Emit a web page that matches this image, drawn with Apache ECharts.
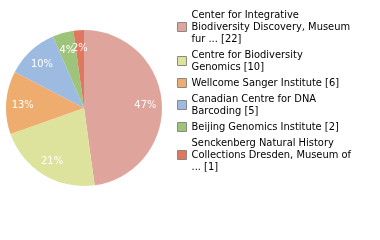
<!DOCTYPE html>
<html><head><meta charset="utf-8">
<script src="https://cdn.jsdelivr.net/npm/echarts@6/dist/echarts.min.js"></script>
<style>html,body{margin:0;padding:0;background:#fff}#c{width:380px;height:240px}</style>
</head><body><div id="c"></div>
<script>
const names = [
  "Center for Integrative\nBiodiversity Discovery, Museum\nfur ... [22]",
  "Centre for Biodiversity\nGenomics [10]",
  "Wellcome Sanger Institute [6]",
  "Canadian Centre for DNA\nBarcoding [5]",
  "Beijing Genomics Institute [2]",
  "Senckenberg Natural History\nCollections Dresden, Museum of\n... [1]"
];
const values = [22, 10, 6, 5, 2, 1];
const colors = ["#dfa59d", "#dde39d", "#eeac6e", "#9dbbe0", "#9dc47a", "#e07860"];
const total = values.reduce((a, b) => a + b, 0);
const data = names.map((n, i) => ({ name: n, value: values[i], itemStyle: { color: colors[i] } }));
const chart = echarts.init(document.getElementById('c'), null, { renderer: 'canvas' });
const font = 'DejaVu Sans Condensed';
chart.setOption({
  animation: false,
  legend: {
    orient: 'vertical', left: 172, top: 4,
    itemWidth: 9, itemHeight: 9, itemGap: 4,
    icon: 'rect',
    itemStyle: { borderColor: '#888', borderWidth: 1 },
    textStyle: { fontFamily: font, fontSize: 11, lineHeight: 12, color: '#000', padding: [0,0,0,0] },
    data: names
  },
  series: [{
    type: 'pie', center: [84, 108], radius: [0, 78], startAngle: 90, clockwise: true,
    label: { show: false }, labelLine: { show: false }, silent: true,
    data: data
  }, {
    type: 'pie', center: [84, 109], radius: [39, 78], startAngle: 90, clockwise: true,
    silent: true, legendHoverLink: false, avoidLabelOverlap: false,
    minShowLabelAngle: 0,
    itemStyle: { color: 'rgba(0,0,0,0)', borderWidth: 0 },
    label: {
      show: true, position: 'inside', color: '#fff', fontFamily: font, fontSize: 11,
      formatter: p => Math.floor(p.value / total * 100) + '%'
    },
    labelLayout: { hideOverlap: false },
    labelLine: { show: false },
    data: names.map((n, i) => ({ name: n + ' ', value: values[i] }))
  }]
});
</script></body></html>
